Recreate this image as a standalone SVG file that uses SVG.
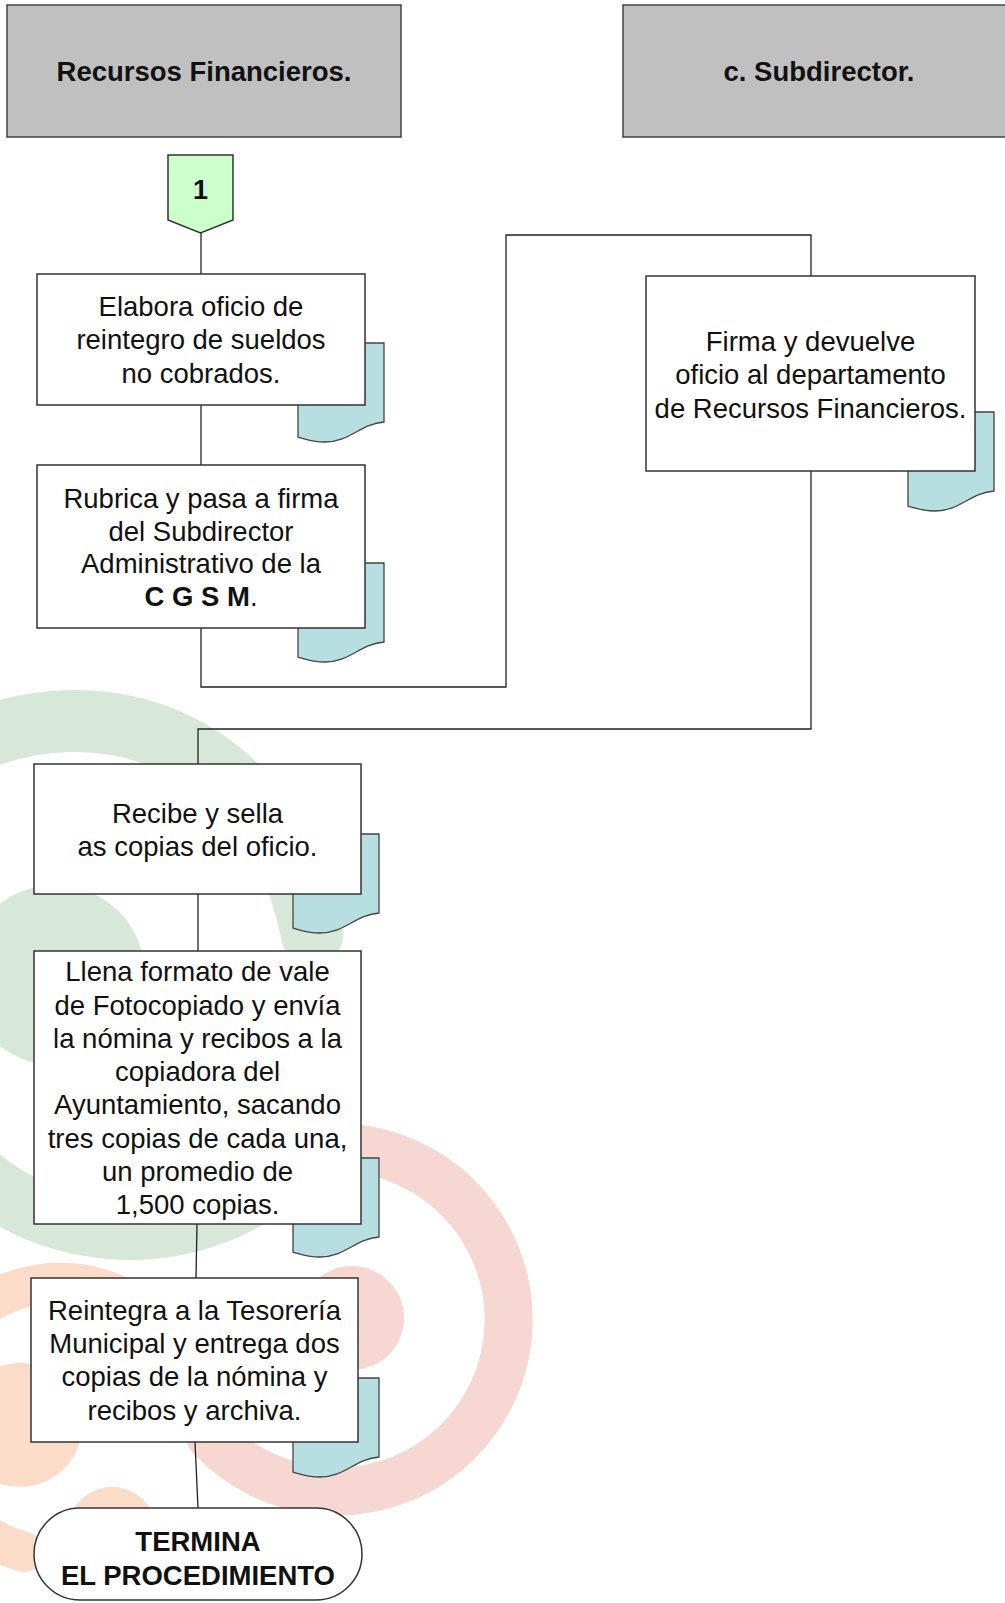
<svg xmlns="http://www.w3.org/2000/svg" xmlns:xlink="http://www.w3.org/1999/xlink" width="1005" height="1603" viewBox="0 0 1005 1603">
<style>
.hdr{fill:#c0c0c0;stroke:#444;stroke-width:1.5}
.box{fill:#fff;stroke:#333;stroke-width:1.5}
.doc{fill:#b7dee1;stroke:#444;stroke-width:1.3}
.t{font-family:"Liberation Sans",Arial,sans-serif;font-size:27.5px;fill:#111;text-anchor:middle}
.b{font-family:"Liberation Sans",Arial,sans-serif;font-size:27.5px;font-weight:bold;fill:#111;text-anchor:middle}
.ln{fill:none;stroke:#222;stroke-width:1.3}
.g{fill:none;stroke:#d8e8d8;stroke-linecap:round}
.p{fill:none;stroke:#f6d7d1;stroke-linecap:round}
.o{fill:none;stroke:#fbdcc9;stroke-linecap:round}
</style>
<defs>
<path id="doc" class="doc" d="M0,0 H86 V79 C62,81 52,99 27,99 C14,99 7,96 0,94 Z"/>
</defs>
<g id="background">
<path class="g" d="M-40,748 C100,680 275,740 312,935" stroke-width="62"/>
<circle cx="55" cy="975" r="90" fill="#d8e8d8"/>
<path class="g" d="M-95.5,1072 A240,240 0 0 0 314,1144" stroke-width="60"/>
<path class="p" d="M210,1436 A172,172 0 1 0 215,1198" stroke-width="48"/>
<circle cx="352" cy="1318" r="52" fill="#f6d7d1"/>
<path class="o" d="M197,1420 A137,137 0 1 0 24.5,1552" stroke-width="40"/>
<circle cx="20" cy="1425" r="62" fill="#fbdcc9"/>
<circle cx="112" cy="1532" r="45" fill="#fbdcc9"/>
</g>
<g id="header-recursos">
<rect class="hdr" x="7" y="5" width="394" height="132"/>
<text class="b" x="204" y="81">Recursos Financieros.</text>
</g>
<g id="header-subdirector">
<rect class="hdr" x="623" y="5" width="395" height="132"/>
<text class="b" x="819" y="81">c. Subdirector.</text>
</g>
<g id="connectors">
<line class="ln" x1="201" y1="233" x2="201" y2="274"/>
<line class="ln" x1="201" y1="405" x2="201" y2="465"/>
<polyline class="ln" points="201,628 201,687 506,687 506,235 811,235 811,276"/>
<polyline class="ln" points="811,471 811,729 198,729 198,764"/>
<line class="ln" x1="198" y1="894" x2="198" y2="951"/>
<line class="ln" x1="197" y1="1224" x2="196" y2="1278"/>
<line class="ln" x1="195" y1="1442" x2="198" y2="1508"/>
</g>
<g id="connector-1">
<path d="M168,155 H233 V220 L200.5,233 L168,220 Z" fill="#ccffcc" stroke="#333" stroke-width="1.5"/>
<text class="b" x="200.5" y="199" style="font-size:27px">1</text>
</g>
<g id="n1">
<use xlink:href="#doc" x="298" y="343"/>
<rect class="box" x="37" y="274" width="328" height="131"/>
<text class="t" x="201" y="316">Elabora oficio de</text>
<text class="t" x="201" y="349">reintegro de sueldos</text>
<text class="t" x="201" y="383">no cobrados.</text>
</g>
<g id="n2">
<use xlink:href="#doc" x="298" y="563"/>
<rect class="box" x="37" y="465" width="328" height="163"/>
<text class="t" x="201" y="508">Rubrica y pasa a firma</text>
<text class="t" x="201" y="541">del Subdirector</text>
<text class="t" x="201" y="573">Administrativo de la</text>
<text class="t" x="201" y="606"><tspan font-weight="bold">C G S M</tspan>.</text>
</g>
<g id="n3">
<use xlink:href="#doc" x="908" y="412"/>
<rect class="box" x="646" y="276" width="329" height="195"/>
<text class="t" x="810.5" y="351">Firma y devuelve</text>
<text class="t" x="810.5" y="384">oficio al departamento</text>
<text class="t" x="810.5" y="418">de Recursos Financieros.</text>
</g>
<g id="n4">
<use xlink:href="#doc" x="293" y="834"/>
<rect class="box" x="34" y="764" width="327" height="130"/>
<text class="t" x="197.5" y="823">Recibe y sella</text>
<text class="t" x="197.5" y="856">as copias del oficio.</text>
</g>
<g id="n5">
<use xlink:href="#doc" x="293" y="1158"/>
<rect class="box" x="34" y="951" width="327" height="273"/>
<text class="t" x="197.5" y="981">Llena formato de vale</text>
<text class="t" x="197.5" y="1015">de Fotocopiado y envía</text>
<text class="t" x="197.5" y="1048">la nómina y recibos a la</text>
<text class="t" x="197.5" y="1081">copiadora del</text>
<text class="t" x="197.5" y="1114">Ayuntamiento, sacando</text>
<text class="t" x="197.5" y="1148">tres copias de cada una,</text>
<text class="t" x="197.5" y="1181">un promedio de</text>
<text class="t" x="197.5" y="1214">1,500 copias.</text>
</g>
<g id="n6">
<use xlink:href="#doc" x="293" y="1378"/>
<rect class="box" x="31" y="1278" width="327" height="164"/>
<text class="t" x="194.5" y="1320">Reintegra a la Tesorería</text>
<text class="t" x="194.5" y="1353">Municipal y entrega dos</text>
<text class="t" x="194.5" y="1386">copias de la nómina y</text>
<text class="t" x="194.5" y="1420">recibos y archiva.</text>
</g>
<g id="end">
<rect class="box" x="34" y="1508" width="328" height="92" rx="46" ry="46"/>
<text class="b" x="198" y="1551">TERMINA</text>
<text class="b" x="198" y="1585">EL PROCEDIMIENTO</text>
</g>
</svg>
